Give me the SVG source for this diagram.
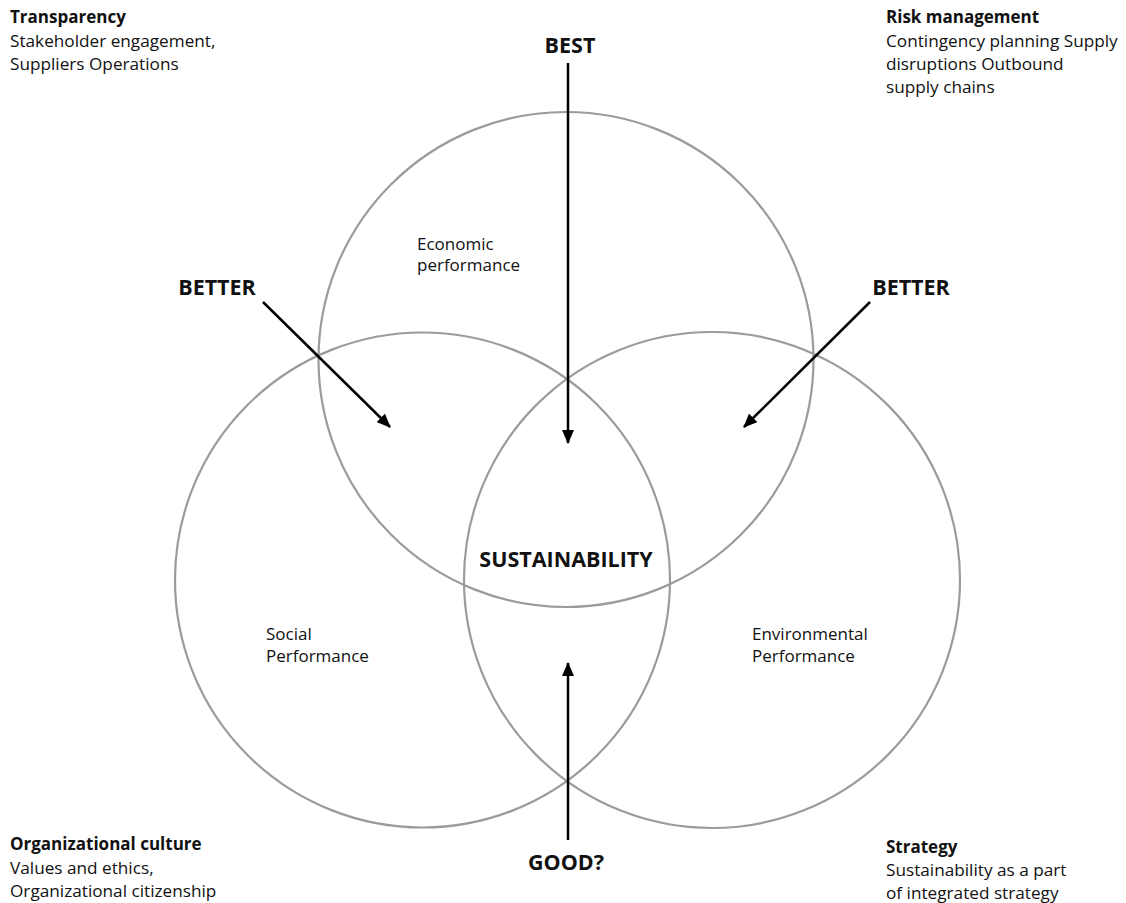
<svg xmlns="http://www.w3.org/2000/svg" width="1126" height="903" viewBox="0 0 1126 903">
  <style>
    .ring { fill: none; stroke: #9b9b9d; stroke-width: 2.2; }
    .arrow { fill: none; stroke: #000; stroke-width: 2.5; marker-end: url(#head); }
    text { font-family: "Open Sans", "Noto Sans", sans-serif; fill: #111; }
    .label { font-size: 17px; }
    .title { font-size: 17px; font-weight: bold; }
    .big { font-size: 21.5px; font-weight: bold; }
    .note { font-size: 17.2px; }
  </style>
  <defs>
    <marker id="head" markerWidth="14" markerHeight="12" refX="13" refY="6" orient="auto" markerUnits="userSpaceOnUse" viewBox="0 0 14 12">
      <path d="M0,0 L14,6 L0,12 z" fill="#000"/>
    </marker>
  </defs>

  <!-- three overlapping performance circles -->
  <g id="economic">
    <circle class="ring" cx="566" cy="359.5" r="247.5"/>
    <text class="label" x="417" y="250">Economic</text>
    <text class="label" x="417" y="271">performance</text>
  </g>
  <g id="social">
    <circle class="ring" cx="422.5" cy="580" r="247.5"/>
    <text class="label" x="266" y="640">Social</text>
    <text class="label" x="266" y="662">Performance</text>
  </g>
  <g id="environmental">
    <circle class="ring" cx="712" cy="580" r="248"/>
    <text class="label" x="752" y="640">Environmental</text>
    <text class="label" x="752" y="662">Performance</text>
  </g>
  <g id="sustainability">
    <text class="big" x="566" y="567" text-anchor="middle">SUSTAINABILITY</text>
  </g>

  <!-- level labels -->
  <g id="best"><text class="big" x="570" y="53" text-anchor="middle">BEST</text></g>
  <g id="better-left"><text class="big" x="217" y="295" text-anchor="middle">BETTER</text></g>
  <g id="better-right"><text class="big" x="911" y="295" text-anchor="middle">BETTER</text></g>
  <g id="good"><text class="big" x="566" y="870" text-anchor="middle">GOOD?</text></g>

  <!-- arrows -->
  <g id="connectors">
    <line class="arrow" x1="568" y1="63" x2="568" y2="443"/>
    <line class="arrow" x1="568" y1="840" x2="568" y2="663"/>
    <line class="arrow" x1="263" y1="302" x2="390" y2="427"/>
    <line class="arrow" x1="870" y1="302" x2="744" y2="427"/>
  </g>

  <!-- corner notes -->
  <g id="transparency">
    <text class="title" x="10" y="23">Transparency</text>
    <text class="note" x="10" y="47">Stakeholder engagement,</text>
    <text class="note" x="10" y="70">Suppliers Operations</text>
  </g>
  <g id="risk">
    <text class="title" x="886" y="23">Risk management</text>
    <text class="note" x="886" y="47">Contingency planning Supply</text>
    <text class="note" x="886" y="70">disruptions Outbound</text>
    <text class="note" x="886" y="93">supply chains</text>
  </g>
  <g id="culture">
    <text class="title" x="10" y="850">Organizational culture</text>
    <text class="note" x="10" y="874">Values and ethics,</text>
    <text class="note" x="10" y="897">Organizational citizenship</text>
  </g>
  <g id="strategy">
    <text class="title" x="886" y="853">Strategy</text>
    <text class="note" x="886" y="876">Sustainability as a part</text>
    <text class="note" x="886" y="899">of integrated strategy</text>
  </g>
</svg>
